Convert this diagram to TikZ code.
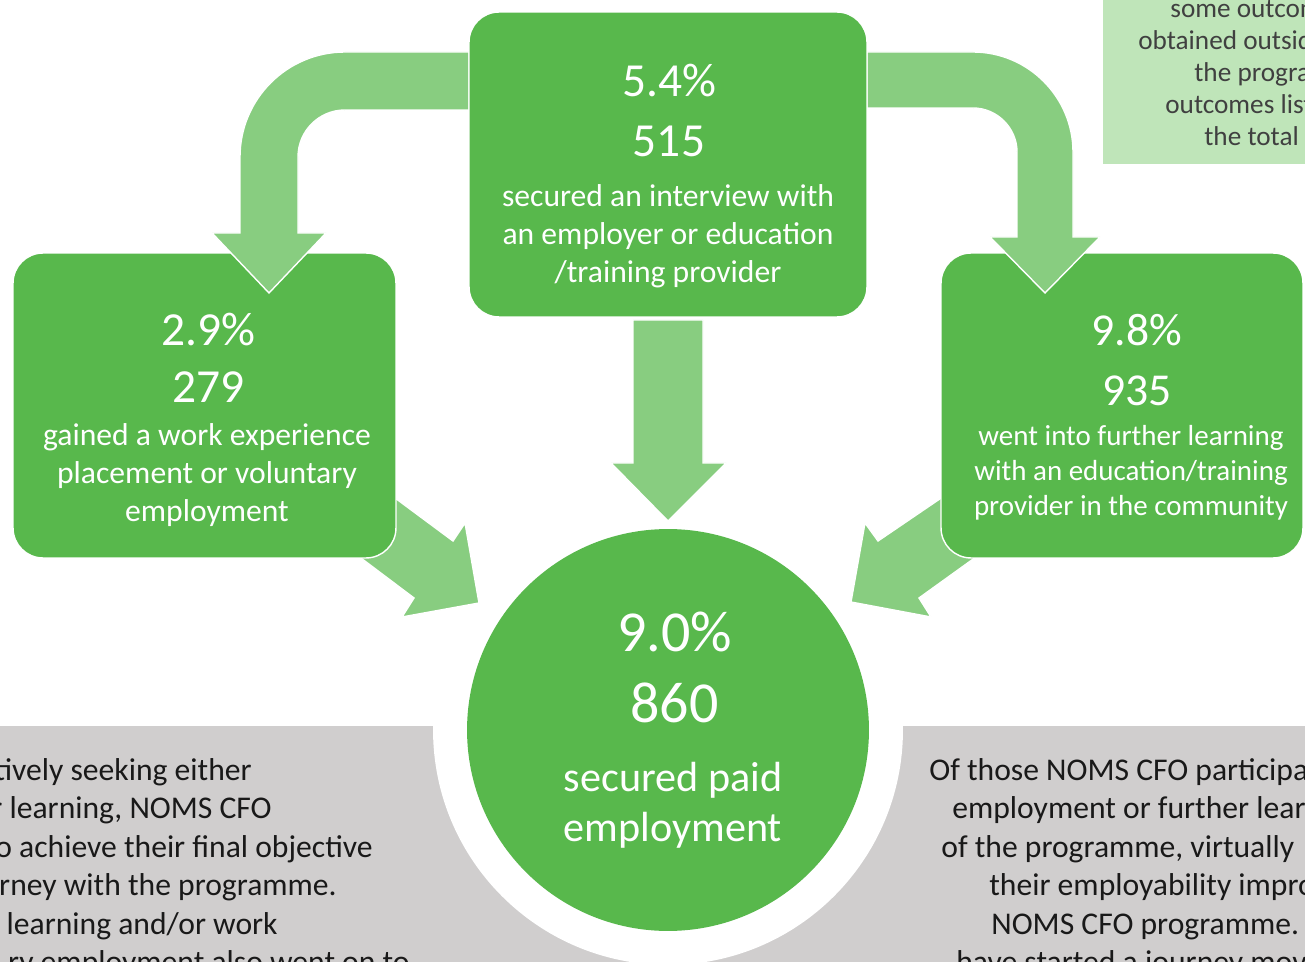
\documentclass[tikz,border=0pt]{standalone}
\usepackage{fontspec}
\setmainfont{Carlito}
\definecolor{boxgreen}{RGB}{88,184,76}
\definecolor{arrowgreen}{RGB}{136,205,128}
\definecolor{notegreen}{RGB}{191,229,185}
\definecolor{bandgray}{RGB}{208,206,206}
\definecolor{notegray}{RGB}{64,64,64}
\tikzset{
  greenbox/.style={draw=white, line width=0.8pt, fill=boxgreen, rounded corners=0.6cm, inner sep=0pt},
  blockarrow/.style={draw=white, line width=0.8pt, fill=arrowgreen},
  numtext/.style={text=white, align=center, inner sep=0pt, font=\fontsize{27}{34.6}\selectfont},
  bodytext/.style={text=white, align=center, inner sep=0pt, font=\fontsize{18}{21.5}\selectfont},
  bandtext/.style={text=black!90, inner sep=0pt, font=\fontsize{18}{21.6}\selectfont},
  notetext/.style={text=notegray, inner sep=0pt, font=\fontsize{15.5}{18}\selectfont, anchor=base west}
}
\begin{document}
\begin{tikzpicture}[x=0.02cm, y=-0.02cm]
  \useasboundingbox (0,0) rectangle (1305,962);
  \clip (0,0) rectangle (1305,962);
  % grey band and note box
  \fill[bandgray] (0,726) rectangle (1305,962);
  \fill[notegreen] (1103,-10) rectangle (1305,164);
  \node[circle, fill=white, minimum size=9.4cm, inner sep=0pt] (ring) at (668,730) {};
  % arrows into the circle
  \draw[blockarrow] (360,472) -- (453,541) -- (465,523) -- (479,603) -- (402,617) -- (414,598) -- (333,537) -- cycle;
  \draw[blockarrow] (975,475) -- (878,541) -- (865,523) -- (851,602) -- (931,617) -- (919,598) -- (1001,539) -- cycle;
  % side boxes
  \node[greenbox, minimum width=7.66cm, minimum height=6.1cm] (work) at (204.5,405.5) {};
  \node[greenbox, minimum width=7.24cm, minimum height=6.1cm] (learn) at (1122,405.5) {};
  % curved arrows
  \draw[blockarrow] (469,52) -- (345,52) .. controls (287,52) and (240,99) .. (240,157) -- (240,233) -- (212,233) -- (269,293) -- (326,233) -- (298,233) -- (298,157) .. controls (298,131) and (319,110) .. (345,110) -- (469,110) -- cycle;
  \draw[blockarrow] (867,52) -- (973,52) .. controls (1028,52) and (1073,97) .. (1073,152) -- (1073,237) -- (1100,237) -- (1045,293) -- (990,237) -- (1017,237) -- (1017,152) .. controls (1017,128) and (997,108) .. (973,108) -- (867,108) -- cycle;
  % top box
  \node[greenbox, minimum width=7.96cm, minimum height=6.1cm] (interview) at (668,164.5) {};
  \draw[blockarrow] (633,320) -- (633,463) -- (611,463) -- (668,521) -- (726,463) -- (703,463) -- (703,320) -- cycle;
  \node[circle, fill=boxgreen, minimum size=8.04cm, inner sep=0pt] (paid) at (668,730) {};
  % box texts
  \node[numtext] (interviewnum) at (669,110.5) {5.4\%\\515};
  \node[bodytext] (interviewtxt) at (668,236) {secured an interview with\\an employer or education\\/training provider};
  \node[numtext, font=\fontsize{27}{32.3}\selectfont] (worknum) at (208.5,357.5) {2.9\%\\279};
  \node[bodytext] (worktxt) at (207,475) {gained a work experience\\placement or voluntary\\employment};
  \node[numtext, font=\fontsize{26}{34}\selectfont] (learnnum) at (1137,360) {9.8\%\\935};
  \node[bodytext, font=\fontsize{16.5}{19.8}\selectfont] (learntxt) at (1131,473) {went into further learning\\with an education/training\\provider in the community};
  \node[numtext, font=\fontsize{33}{40.3}\selectfont] (paidnum) at (674.5,667.5) {9.0\%\\860};
  \node[bodytext, font=\fontsize{24}{28.3}\selectfont] (paidtxt) at (673,805) {secured paid\\employment};
  % note text, cut by the edge
  \node[notetext] (note1) at (1170,18) {some outcom};
  \node[notetext] (note2) at (1138,50) {obtained outsid};
  \node[notetext] (note3) at (1194,82) {the progra};
  \node[notetext] (note4) at (1165,114) {outcomes list};
  \node[notetext] (note5) at (1204,146) {the total n};
  % band texts, cut by the edges
  \node[bandtext, anchor=base east] (left1) at (252,780) {tively seeking either};
  \node[bandtext, anchor=base east] (left2) at (272,818.5) {r learning, NOMS CFO};
  \node[bandtext, anchor=base east] (left3) at (373,857) {o achieve their final objective};
  \node[bandtext, anchor=base east] (left4) at (337,895.5) {rney with the programme.};
  \node[bandtext, anchor=base east] (left5) at (278,934) {learning and/or work};
  \node[bandtext, anchor=base east] (left6) at (410,972.5) {ry employment also went on to};
  \node[bandtext, anchor=base west] (right1) at (929,780) {Of those NOMS CFO participa};
  \node[bandtext, anchor=base west] (right2) at (952,818.5) {employment or further lear};
  \node[bandtext, anchor=base west] (right3) at (941,857) {of the programme, virtually};
  \node[bandtext, anchor=base west] (right4) at (989,895.5) {their employability impro};
  \node[bandtext, anchor=base west] (right5) at (991,934) {NOMS CFO programme.};
  \node[bandtext, anchor=base west] (right6) at (956,972.5) {have started a journey mov};
\end{tikzpicture}
\end{document}
